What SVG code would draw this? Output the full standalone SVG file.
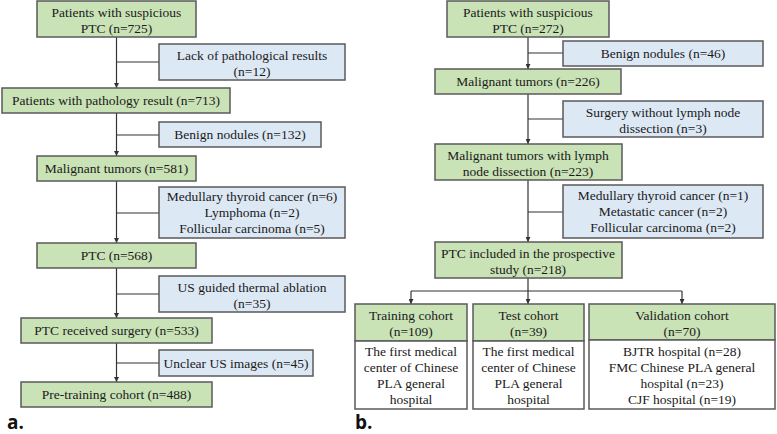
<svg xmlns="http://www.w3.org/2000/svg" width="777" height="434" viewBox="0 0 777 434">
<defs>
<marker id="arr" viewBox="0 0 10 10" refX="10" refY="5" markerWidth="5" markerHeight="5" markerUnits="userSpaceOnUse" orient="auto">
<path d="M0,0 L10,5 L0,10 z" fill="#333"/>
</marker>
<style>
.g{fill:#c9e2b6;stroke:#5a5a5a;stroke-width:1.5}
.b{fill:#dde8f5;stroke:#5a5a5a;stroke-width:1.5}
.w{fill:#ffffff;stroke:#5a5a5a;stroke-width:1.5}
.c{fill:none;stroke:#333;stroke-width:1.2}
</style>
</defs>
<rect width="777" height="434" fill="#fff"/>

<g id="connectors">
<line class="c" x1="116.5" y1="37" x2="116.5" y2="88" marker-end="url(#arr)"/>
<line class="c" x1="116.5" y1="62" x2="159" y2="62"/>
<line class="c" x1="116.5" y1="113" x2="116.5" y2="156" marker-end="url(#arr)"/>
<line class="c" x1="116.5" y1="135" x2="159" y2="135"/>
<line class="c" x1="116.5" y1="181" x2="116.5" y2="243" marker-end="url(#arr)"/>
<line class="c" x1="116.5" y1="213" x2="159" y2="213"/>
<line class="c" x1="116.5" y1="268" x2="116.5" y2="318" marker-end="url(#arr)"/>
<line class="c" x1="116.5" y1="294" x2="159" y2="294"/>
<line class="c" x1="116.5" y1="343" x2="116.5" y2="382" marker-end="url(#arr)"/>
<line class="c" x1="116.5" y1="363" x2="159" y2="363"/>

<line class="c" x1="528" y1="37" x2="528" y2="69" marker-end="url(#arr)"/>
<line class="c" x1="528" y1="53" x2="563" y2="53"/>
<line class="c" x1="528" y1="94" x2="528" y2="144" marker-end="url(#arr)"/>
<line class="c" x1="528" y1="119" x2="563" y2="119"/>
<line class="c" x1="528" y1="180" x2="528" y2="242" marker-end="url(#arr)"/>
<line class="c" x1="528" y1="212" x2="563" y2="212"/>
<line class="c" x1="528" y1="278" x2="528" y2="304" marker-end="url(#arr)"/>
<line class="c" x1="411" y1="291" x2="682" y2="291"/>
<line class="c" x1="411" y1="291" x2="411" y2="304" marker-end="url(#arr)"/>
<line class="c" x1="682" y1="291" x2="682" y2="304" marker-end="url(#arr)"/>
</g>

<g style="font-family:'Liberation Serif',serif;font-size:13.5px" fill="#1a1a1a" text-anchor="middle">
<g id="a1"><rect class="g" x="37" y="1" width="159" height="36"/><text x="116.5" y="16.5">Patients with suspicious</text><text x="116.5" y="32.5">PTC (n=725)</text></g>
<g id="a_ex1"><rect class="b" x="159" y="44" width="186" height="36"/><text x="252" y="59.5">Lack of pathological results</text><text x="252" y="75.5">(n=12)</text></g>
<g id="a2"><rect class="g" x="2" y="88" width="228" height="25"/><text x="116" y="105">Patients with pathology result (n=713)</text></g>
<g id="a_ex2"><rect class="b" x="159" y="122" width="162" height="25"/><text x="240" y="139">Benign nodules (n=132)</text></g>
<g id="a3"><rect class="g" x="37" y="156" width="159" height="25"/><text x="116.5" y="173">Malignant tumors (n=581)</text></g>
<g id="a_ex3"><rect class="b" x="159" y="187" width="186" height="51"/><text x="252" y="201">Medullary thyroid cancer (n=6)</text><text x="252" y="217">Lymphoma (n=2)</text><text x="252" y="233">Follicular carcinoma (n=5)</text></g>
<g id="a4"><rect class="g" x="37" y="243" width="159" height="25"/><text x="116.5" y="260">PTC (n=568)</text></g>
<g id="a_ex4"><rect class="b" x="159" y="276" width="186" height="36"/><text x="252" y="291.5">US guided thermal ablation</text><text x="252" y="307.5">(n=35)</text></g>
<g id="a5"><rect class="g" x="21" y="318" width="191" height="25"/><text x="116.5" y="335">PTC received surgery (n=533)</text></g>
<g id="a_ex5"><rect class="b" x="159" y="350" width="154" height="26"/><text x="236" y="367.5">Unclear US images (n=45)</text></g>
<g id="a6"><rect class="g" x="21" y="382" width="191" height="25"/><text x="116.5" y="399">Pre-training cohort (n=488)</text></g>

<g id="b1"><rect class="g" x="447" y="1" width="162" height="36"/><text x="528" y="16.5">Patients with suspicious</text><text x="528" y="32.5">PTC (n=272)</text></g>
<g id="b_ex1"><rect class="b" x="563" y="41" width="200" height="25"/><text x="663" y="58">Benign nodules (n=46)</text></g>
<g id="b2"><rect class="g" x="435" y="69" width="186" height="25"/><text x="528" y="86">Malignant tumors (n=226)</text></g>
<g id="b_ex2"><rect class="b" x="563" y="101" width="200" height="36"/><text x="663" y="116.5">Surgery without lymph node</text><text x="663" y="132.5">dissection (n=3)</text></g>
<g id="b3"><rect class="g" x="435" y="144" width="187" height="36"/><text x="528" y="159.5">Malignant tumors with lymph</text><text x="528" y="175.5">node dissection (n=223)</text></g>
<g id="b_ex3"><rect class="b" x="563" y="185" width="200" height="53"/><text x="663" y="200">Medullary thyroid cancer (n=1)</text><text x="663" y="216">Metastatic cancer (n=2)</text><text x="663" y="232">Follicular carcinoma (n=2)</text></g>
<g id="b4"><rect class="g" x="435" y="242" width="187" height="36"/><text x="528" y="257.5">PTC included in the prospective</text><text x="528" y="273.5">study (n=218)</text></g>
<g id="train"><rect class="g" x="355" y="304" width="112" height="37"/><text x="411" y="320">Training cohort</text><text x="411" y="336">(n=109)</text>
<rect class="w" x="355" y="341" width="112" height="68"/><text x="411" y="356">The first medical</text><text x="411" y="372">center of Chinese</text><text x="411" y="388">PLA general</text><text x="411" y="404">hospital</text></g>
<g id="test"><rect class="g" x="473" y="304" width="111" height="37"/><text x="528.5" y="320">Test cohort</text><text x="528.5" y="336">(n=39)</text>
<rect class="w" x="473" y="341" width="111" height="68"/><text x="528.5" y="356">The first medical</text><text x="528.5" y="372">center of Chinese</text><text x="528.5" y="388">PLA general</text><text x="528.5" y="404">hospital</text></g>
<g id="valid"><rect class="g" x="589" y="304" width="186" height="36"/><text x="682" y="319.5">Validation cohort</text><text x="682" y="335.5">(n=70)</text>
<rect class="w" x="589" y="340" width="186" height="69"/><text x="682" y="355.5">BJTR hospital (n=28)</text><text x="682" y="371.5">FMC Chinese PLA general</text><text x="682" y="387.5">hospital (n=23)</text><text x="682" y="403.5">CJF hospital (n=19)</text></g>
</g>
<g style="font-family:'Open Sans',sans-serif;font-size:19px;font-weight:bold" fill="#111">
<text x="7" y="429">a.</text>
<text x="355" y="429">b.</text>
</g>
</svg>
